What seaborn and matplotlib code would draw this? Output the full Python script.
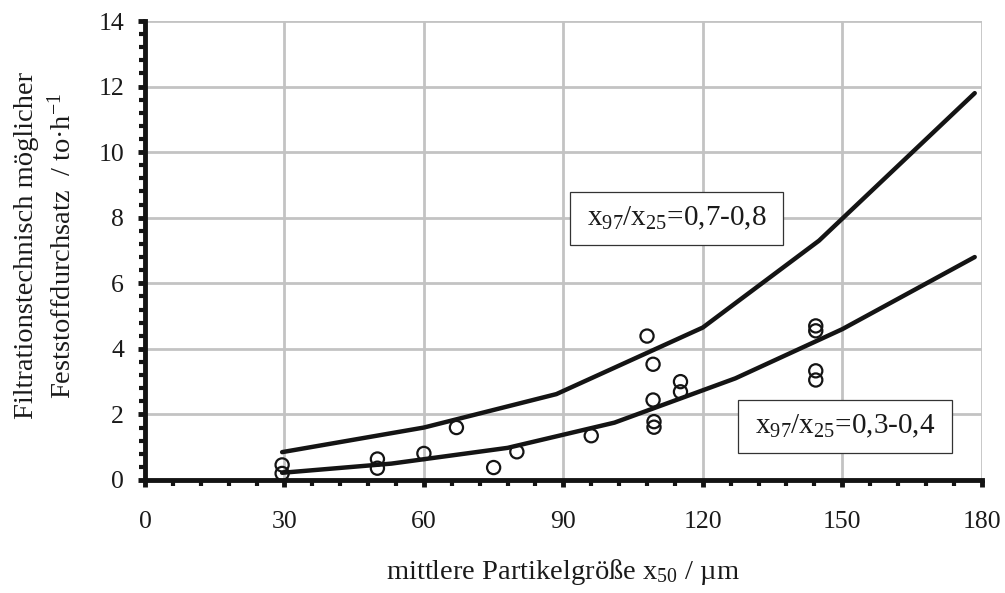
import matplotlib
matplotlib.use("Agg")
import matplotlib.pyplot as plt
import seaborn as sns
import pandas as pd
from matplotlib.patches import Rectangle
from matplotlib.ticker import MultipleLocator

# ---- data ----
upper_x = [29.5, 60, 88.5, 120, 145, 178.5]
upper_y = [0.85, 1.6, 2.62, 4.65, 7.3, 11.8]
lower_x = [29.5, 53, 78, 101, 127, 150, 178.5]
lower_y = [0.22, 0.5, 0.98, 1.75, 3.1, 4.6, 6.8]
pts_x = [29.5, 29.5, 50, 50, 60, 67, 75, 80, 96, 108, 109.3, 109.3, 109.5, 109.5,
         115.2, 115.2, 144.3, 144.3, 144.3, 144.3]
pts_y = [0.46, 0.2, 0.64, 0.36, 0.81, 1.6, 0.38, 0.86, 1.35, 4.39, 3.53, 2.44, 1.78, 1.61,
         3.0, 2.69, 4.7, 4.55, 3.33, 3.05]
label_upper = "$x_{97}/x_{25}$=0,7-0,8"
label_lower = "$x_{97}/x_{25}$=0,3-0,4"
x_ticks = [0, 30, 60, 90, 120, 150, 180]
y_ticks = [0, 2, 4, 6, 8, 10, 12, 14]

sns.set_theme(style="white")
plt.rcParams["font.family"] = ["Liberation Serif", "DejaVu Serif"]
plt.rcParams["mathtext.default"] = "regular"

fig = plt.figure(figsize=(10.05, 5.93), dpi=100)
ax = fig.add_axes([145 / 1005, 1 - 480 / 593, (981.7 - 145) / 1005, (480 - 21) / 593])

df_up = pd.DataFrame({"x": upper_x, "y": upper_y})
df_lo = pd.DataFrame({"x": lower_x, "y": lower_y})
df_pts = pd.DataFrame({"x": pts_x, "y": pts_y})

sns.lineplot(data=df_up, x="x", y="y", ax=ax, color="#141414", linewidth=3.2,
             estimator=None, sort=False, zorder=3)
sns.lineplot(data=df_lo, x="x", y="y", ax=ax, color="#141414", linewidth=3.2,
             estimator=None, sort=False, zorder=3)
sns.scatterplot(data=df_pts, x="x", y="y", ax=ax, marker="o", s=90,
                facecolors="none", edgecolor="#141414", linewidth=1.6, zorder=4)

ax.set_xlim(0, 180)
ax.set_ylim(0, 14)
ax.set_xticks(x_ticks)
ax.set_yticks(y_ticks)
ax.xaxis.set_minor_locator(MultipleLocator(6))
ax.yaxis.set_minor_locator(MultipleLocator(0.4))
ax.grid(True, which="major", color="#c3c3c3", linewidth=2.0, zorder=0)
ax.set_axisbelow(True)

for s in ["top", "right"]:
    ax.spines[s].set_visible(False)
for s in ["left", "bottom"]:
    ax.spines[s].set_color("#141414")
    ax.spines[s].set_linewidth(3.5)
    ax.spines[s].set_zorder(5)

ax.tick_params(axis="both", which="both", direction="out", color="#141414",
               bottom=True, left=True)
ax.tick_params(axis="both", which="major", length=5, width=3.5, labelsize=18.5,
               labelcolor="#1a1a1a")
ax.tick_params(axis="both", which="minor", length=4.5, width=3.0)
ax.tick_params(axis="x", which="major", pad=17)
ax.tick_params(axis="y", which="major", pad=10)

ax.set_xlabel("mittlere Partikelgröße $x_{50}$ / µm", fontsize=20.5, color="#1a1a1a")
ax.xaxis.label.set_va("center")
ax.xaxis.set_label_coords(0.5, -0.20)
ax.set_ylabel("Filtrationstechnisch möglicher\nFeststoffdurchsatz  / to·h$^{-1}$",
              fontsize=20.5, color="#1a1a1a", linespacing=1.4, multialignment="center")
ax.yaxis.label.set_va("center")
ax.yaxis.set_label_coords(-0.1195, 0.51)

for (x0, x1, y0, y1, txt) in [(0.508, 0.7625, 0.512, 0.628, label_upper),
                              (0.7084, 0.9649, 0.0582, 0.1743, label_lower)]:
    ax.add_patch(Rectangle((x0, y0), x1 - x0, y1 - y0, transform=ax.transAxes,
                           facecolor="white", edgecolor="#333333", linewidth=0.9, zorder=6))
    ax.text((x0 + x1) / 2, (y0 + y1) / 2, txt, transform=ax.transAxes, ha="center",
            va="center", fontsize=21, color="#1a1a1a", zorder=7)

fig.savefig("out.png", dpi=100)
